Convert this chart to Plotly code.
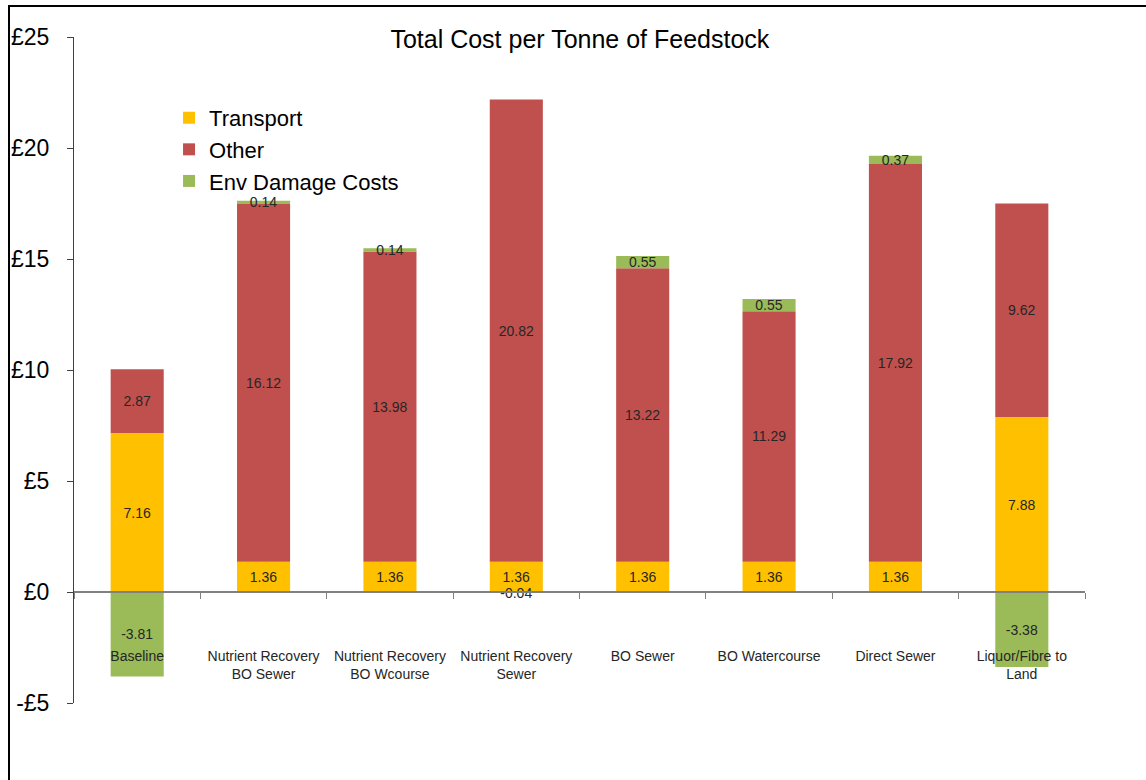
import plotly.graph_objects as go

categories = ["Baseline", "Nutrient Recovery<br>BO Sewer", "Nutrient Recovery<br>BO Wcourse",
              "Nutrient Recovery<br>Sewer", "BO Sewer", "BO Watercourse", "Direct Sewer",
              "Liquor/Fibre to<br>Land"]
transport = [7.16, 1.36, 1.36, 1.36, 1.36, 1.36, 1.36, 7.88]
other = [2.87, 16.12, 13.98, 20.82, 13.22, 11.29, 17.92, 9.62]
env_damage = [-3.81, 0.14, 0.14, -0.04, 0.55, 0.55, 0.37, -3.38]
y_ticks = [-5, 0, 5, 10, 15, 20, 25]
y_tick_text = ["-£5", "£0", "£5", "£10", "£15", "£20", "£25"]

FONT = "Liberation Sans"
LBL = dict(family=FONT, size=14, color="#262626")

fig = go.Figure()
series = [("Transport", transport, "#FFC000"),
          ("Other", other, "#C0504D"),
          ("Env Damage Costs", env_damage, "#9BBB59")]
for name, vals, col in series:
    fig.add_trace(go.Bar(
        name=name, x=categories, y=vals, marker=dict(color=col, line=dict(width=0)),
        text=[f"{v:.2f}" for v in vals], textposition="inside", insidetextanchor="middle",
        textangle=0, textfont=LBL, cliponaxis=False,
    ))

fig.update_layout(
    barmode="relative",
    bargap=0.58,
    width=1146, height=780,
    margin=dict(l=74, r=61, t=37, b=77),
    paper_bgcolor="white", plot_bgcolor="white",
    uniformtext=dict(mode="show", minsize=14),
    title=dict(text="Total Cost per Tonne of Feedstock", x=0.506, xanchor="center",
               y=1 - 39 / 780, yanchor="middle",
               font=dict(family=FONT, size=25, color="#000000")),
    legend=dict(x=0.094, y=0.91, xanchor="left", yanchor="top", traceorder="normal",
                font=dict(family=FONT, size=22, color="#000000"), bgcolor="rgba(0,0,0,0)",
                itemclick=False),
    showlegend=True,
    font=dict(family=FONT),
)
fig.update_yaxes(
    range=[-5, 25], tickvals=y_ticks, ticktext=y_tick_text, showgrid=False, zeroline=False,
    showline=True, linecolor="#404040", linewidth=1, ticks="outside", ticklen=6,
    tickcolor="#404040", tickfont=dict(family=FONT, size=23, color="#000000"),
    ticklabelstandoff=13,
)
fig.update_xaxes(
    anchor="free", position=1 / 6, showgrid=False, zeroline=False, showline=True,
    linecolor="#808080", linewidth=1.5, ticks="outside", tickson="boundaries", ticklen=6,
    tickcolor="#808080", tickfont=dict(family=FONT, size=14, color="#262626"),
    ticklabelstandoff=51,
)
# outer frame
fig.add_shape(type="rect", xref="paper", yref="paper",
              x0=(9 - 74) / 1011, x1=1.2, y0=-0.3, y1=(703 - 6) / 666,
              line=dict(color="#000000", width=2), layer="below")

fig.write_html("out.html")
